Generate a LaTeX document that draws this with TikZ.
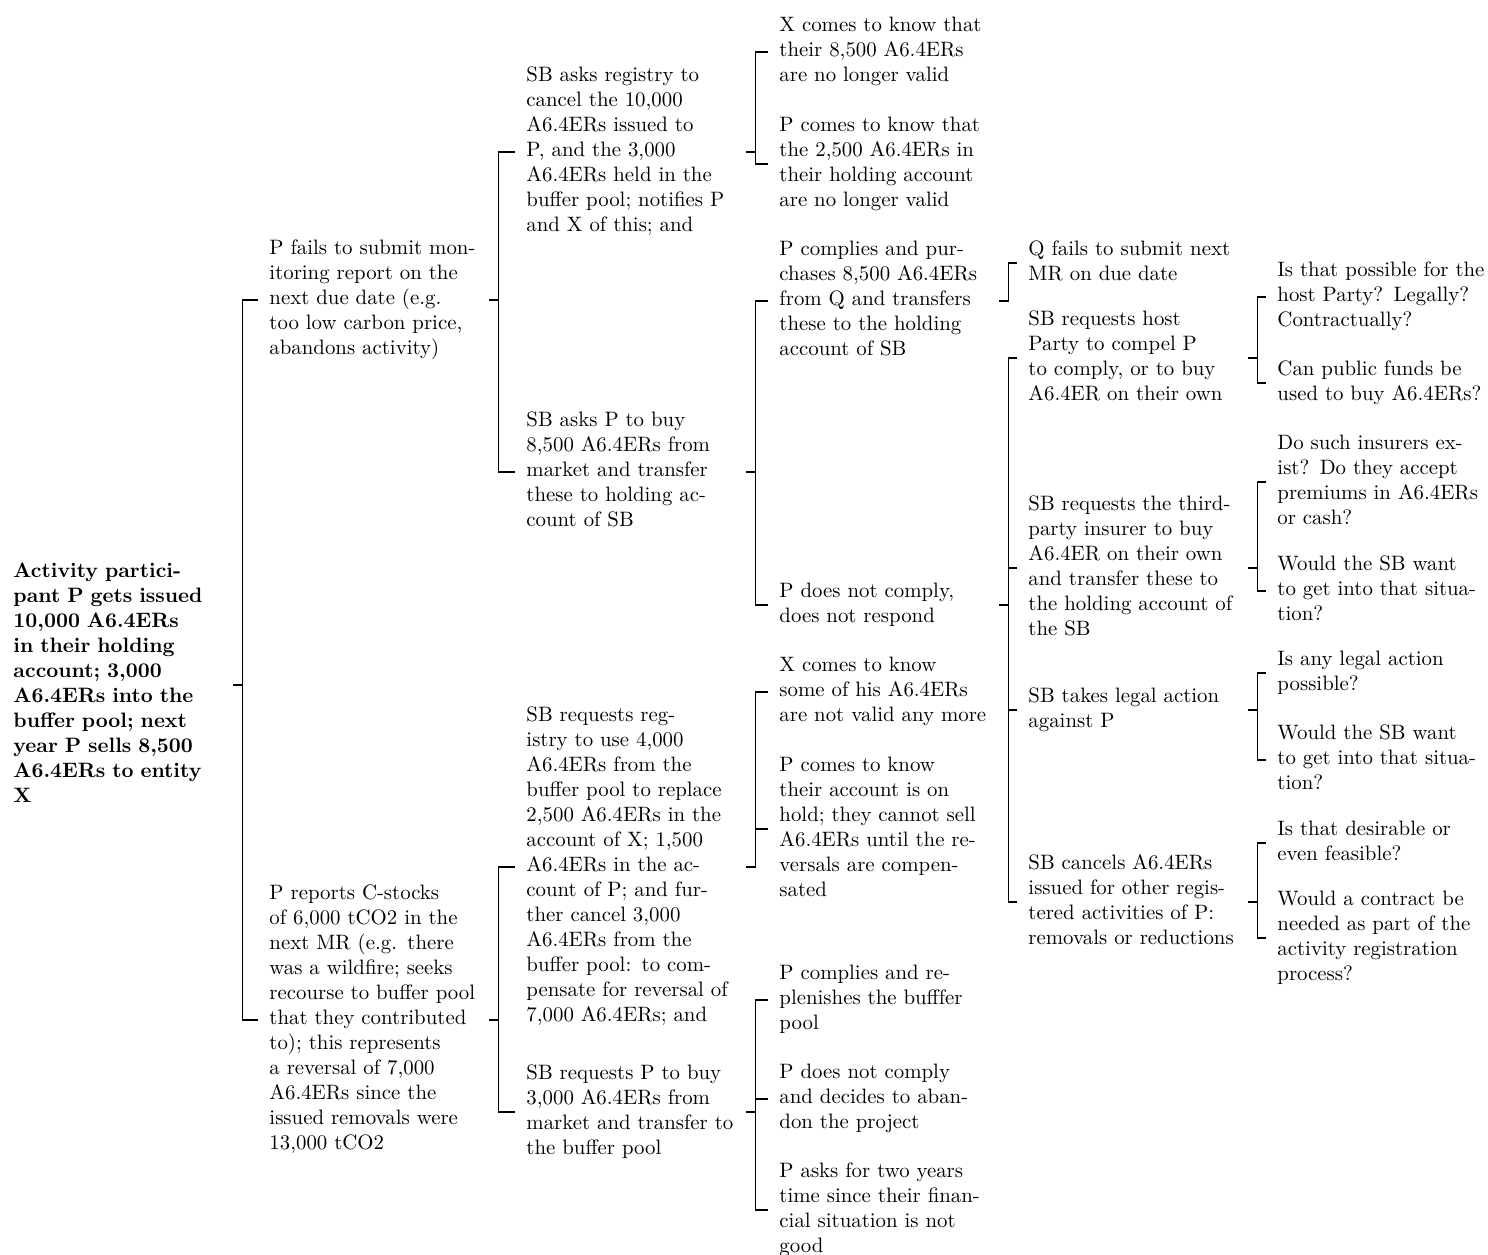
\documentclass[tikz,border=0pt]{standalone}
\newcommand{\mytab}[1]{\begin{tabular}{@{}l@{}}#1\end{tabular}}
\tikzset{
  x=0.48pt, y=-0.48pt,
  box/.style={anchor=west, text width=100pt, align=left, inner xsep=5.3pt, inner ysep=0pt},
  link/.style={draw, line width=0.6pt},
}
\begin{document}
\begin{tikzpicture}
\useasboundingbox (0,0) rectangle (1488,1255);
\fill[white] (0,0) rectangle (1488,1255);
% column 1
\node[box, font=\bfseries] (R) at (2,685) {\mytab{Activity partici-\\pant P gets issued\\10,000 A6.4ERs\\in their holding\\account; 3,000\\A6.4ERs into the\\buffer pool; next\\year P sells 8,500\\A6.4ERs to entity\\X}};
% column 2
\node[box] (A) at (258,300) {\mytab{P fails to submit mon-\\itoring report on the\\next due date (e.g.\\too low carbon price,\\abandons activity)}};
\node[box] (B) at (258,1020) {\mytab{P reports C-stocks\\of 6,000 tCO2 in the\\next MR (e.g. there\\was a wildfire; seeks\\recourse to buffer pool\\that they contributed\\to); this represents\\a reversal of 7,000\\A6.4ERs since the\\issued removals were\\13,000 tCO2}};
% column 3
\node[box] (A1) at (515,152) {\mytab{SB asks registry to\\cancel the 10,000\\A6.4ERs issued to\\P, and the 3,000\\A6.4ERs held in the\\buffer pool; notifies P\\and X of this; and}};
\node[box] (A2) at (515,472) {\mytab{SB asks P to buy\\8,500 A6.4ERs from\\market and transfer\\these to holding ac-\\count of SB}};
\node[box] (B1) at (515,867) {\mytab{SB requests reg-\\istry to use 4,000\\A6.4ERs from the\\buffer pool to replace\\2,500 A6.4ERs in the\\account of X; 1,500\\A6.4ERs in the ac-\\count of P; and fur-\\ther cancel 3,000\\A6.4ERs from the\\buffer pool: to com-\\pensate for reversal of\\7,000 A6.4ERs; and}};
\node[box] (B2) at (515,1112) {\mytab{SB requests P to buy\\3,000 A6.4ERs from\\market and transfer to\\the buffer pool}};
% column 4
\node[box] (A1a) at (768,52) {\mytab{X comes to know that\\their 8,500 A6.4ERs\\are no longer valid}};
\node[box] (A1b) at (768,164) {\mytab{P comes to know that\\the 2,500 A6.4ERs in\\their holding account\\are no longer valid}};
\node[box] (A2a) at (768,301) {\mytab{P complies and pur-\\chases 8,500 A6.4ERs\\from Q and transfers\\these to the holding\\account of SB}};
\node[box] (A2b) at (768,605) {\mytab{P does not comply,\\does not respond}};
\node[box] (B1a) at (768,692) {\mytab{X comes to know\\some of his A6.4ERs\\are not valid any more}};
\node[box] (B1b) at (768,829) {\mytab{P comes to know\\their account is on\\hold; they cannot sell\\A6.4ERs until the re-\\versals are compen-\\sated}};
\node[box] (B2a) at (768,1000) {\mytab{P complies and re-\\plenishes the bufffer\\pool}};
\node[box] (B2b) at (768,1099) {\mytab{P does not comply\\and decides to aban-\\don the project}};
\node[box] (B2c) at (768,1210) {\mytab{P asks for two years\\time since their finan-\\cial situation is not\\good}};
% column 5
\node[box] (Q) at (1017,263) {\mytab{Q fails to submit next\\MR on due date}};
\node[box] (C1) at (1017,358) {\mytab{SB requests host\\Party to compel P\\to comply, or to buy\\A6.4ER on their own}};
\node[box] (C2) at (1017,568) {\mytab{SB requests the third-\\party insurer to buy\\A6.4ER on their own\\and transfer these to\\the holding account of\\the SB}};
\node[box] (C3) at (1017,710) {\mytab{SB takes legal action\\against P}};
\node[box] (C4) at (1017,902) {\mytab{SB cancels A6.4ERs\\issued for other regis-\\tered activities of P:\\removals or reductions}};
% column 6
\node[box] (C1a) at (1266,297) {\mytab{Is that possible for the\\host Party? Legally?\\Contractually?}};
\node[box] (C1b) at (1266,383) {\mytab{Can public funds be\\used to buy A6.4ERs?}};
\node[box] (C2a) at (1266,482) {\mytab{Do such insurers ex-\\ist? Do they accept\\premiums in A6.4ERs\\or cash?}};
\node[box] (C2b) at (1266,591) {\mytab{Would the SB want\\to get into that situa-\\tion?}};
\node[box] (C3a) at (1266,673) {\mytab{Is any legal action\\possible?}};
\node[box] (C3b) at (1266,760) {\mytab{Would the SB want\\to get into that situa-\\tion?}};
\node[box] (C4a) at (1266,843) {\mytab{Is that desirable or\\even feasible?}};
\node[box] (C4b) at (1266,938) {\mytab{Would a contract be\\needed as part of the\\activity registration\\process?}};
% connectors
\foreach \p/\c in {R/A, R/B, A/A1, A/A2, B/B1, B/B2, A1/A1a, A1/A1b, A2/A2a, A2/A2b,
  B1/B1a, B1/B1b, B2/B2a, B2/B2b, B2/B2c, A2a/Q, A2b/C1, A2b/C2, A2b/C3, A2b/C4,
  C1/C1a, C1/C1b, C2/C2a, C2/C2b, C3/C3a, C3/C3b, C4/C4a, C4/C4b}
  \draw[link] (\p.east) -- ++(9,0) |- (\c.west);
\end{tikzpicture}
\end{document}
